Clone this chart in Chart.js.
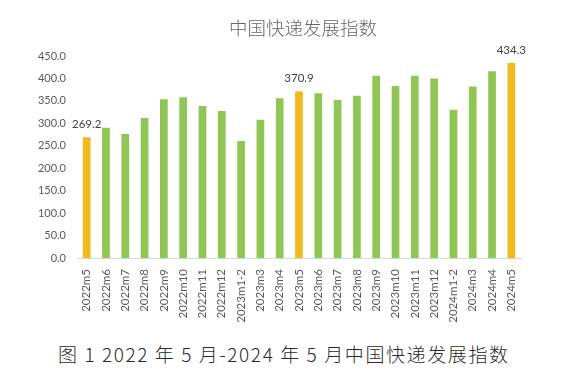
<!DOCTYPE html>
<html>
<head>
<meta charset="utf-8">
<script src="https://cdn.jsdelivr.net/npm/chart.js@4/dist/chart.umd.min.js"></script>
<style>
  html, body { margin: 0; padding: 0; background: #fff; }
  #wrap { position: relative; width: 585px; height: 372px; }
  #box { position: absolute; left: 0; top: 0; width: 585px; height: 325px; }
  #title {
    position: absolute; left: 229px; top: 14px;
    font-family: "Noto Sans CJK SC", sans-serif; font-size: 18.5px; font-weight: 300;
    color: #666; white-space: nowrap; line-height: 26px;
  }
  #caption {
    position: absolute; left: 58px; top: 340px;
    font-family: "Noto Sans CJK SC", sans-serif; font-size: 19px; font-weight: 300;
    color: #2a2a2a; white-space: pre; line-height: 28px;
  }
</style>
</head>
<body>
<div id="wrap">
  <div id="box"><canvas id="c"></canvas></div>
  <div id="title">中国快递发展指数</div>
  <div id="caption">图 1 2022 年 5 月-2024 年 5 月中国快递发展指数</div>
</div>
<script>
var categories = ['2022m5', '2022m6', '2022m7', '2022m8', '2022m9', '2022m10', '2022m11', '2022m12',
  '2023m1-2', '2023m3', '2023m4', '2023m5', '2023m6', '2023m7', '2023m8', '2023m9', '2023m10',
  '2023m11', '2023m12', '2024m1-2', '2024m3', '2024m4', '2024m5'];
var indexValues = [269.2, 290, 276, 312, 353.5, 358, 338.6, 327.5,
  260.6, 308, 356, 370.9, 367, 352, 361.6, 406, 383,
  406, 400, 330, 381.8, 416, 434.3];
// months shown in yellow with a value label
var highlighted = ['2022m5', '2023m5', '2024m5'];

var GREEN = '#90c655';
var YELLOW = '#f1b91e';

var barColors = categories.map(function (c) {
  return highlighted.indexOf(c) >= 0 ? YELLOW : GREEN;
});

// stretch the caption to the width it has in the original (SimSun-like spacing)
var cap = document.getElementById('caption');
var capWidth = cap.getBoundingClientRect().width;
cap.style.letterSpacing = ((450 - capWidth) / (cap.textContent.length - 1)) + 'px';

// draws the number above the highlighted bars only
var valueLabels = {
  id: 'valueLabels',
  afterDatasetsDraw: function (chart) {
    var ctx = chart.ctx;
    var meta = chart.getDatasetMeta(0);
    ctx.save();
    ctx.font = '11.5px Lato, sans-serif';
    ctx.fillStyle = '#404040';
    ctx.textAlign = 'center';
    ctx.textBaseline = 'bottom';
    meta.data.forEach(function (bar, i) {
      if (highlighted.indexOf(categories[i]) < 0) return;
      ctx.fillText(indexValues[i].toFixed(1), bar.x, bar.y - 7);
    });
    ctx.restore();
  }
};

new Chart(document.getElementById('c'), {
  type: 'bar',
  data: {
    labels: categories,
    datasets: [{
      data: indexValues,
      backgroundColor: barColors,
      categoryPercentage: 1,
      barPercentage: 0.4
    }]
  },
  plugins: [valueLabels],
  options: {
    responsive: true,
    maintainAspectRatio: false,
    animation: false,
    layout: { padding: { left: 30, right: 64, top: 56, bottom: 0 } },
    plugins: {
      legend: { display: false },
      tooltip: { enabled: false },
      title: { display: false }
    },
    scales: {
      x: {
        grid: { display: false },
        border: { display: true, color: '#d9d9d9' },
        ticks: {
          color: '#595959',
          font: { family: 'Lato, sans-serif', size: 11.5 },
          minRotation: 90,
          maxRotation: 90,
          autoSkip: false
        },
        afterFit: function (scale) { scale.height = 67; }
      },
      y: {
        min: 0,
        max: 450,
        grid: { display: false },
        border: { display: false },
        ticks: {
          stepSize: 50,
          color: '#595959',
          font: { family: 'Lato, sans-serif', size: 11 },
          callback: function (v) { return v.toFixed(1); }
        },
        afterFit: function (scale) { scale.width = 47; }
      }
    }
  }
});
</script>
</body>
</html>
